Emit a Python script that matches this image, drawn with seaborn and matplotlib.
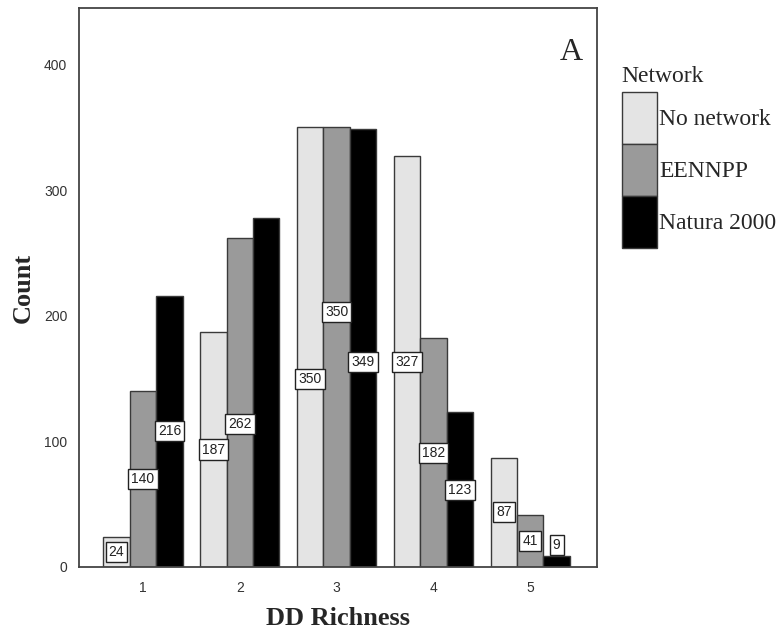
import matplotlib
matplotlib.use("Agg")
import matplotlib.pyplot as plt
import seaborn as sns
import pandas as pd

richness = ["1", "2", "3", "4", "5"]
networks = ["No network", "EENNPP", "Natura 2000"]
no_network = [24, 187, 350, 327, 87]
eennpp = [140, 262, 350, 182, 41]
natura = [216, 278, 349, 123, 9]
# labels shown on the bars (Natura 2000 at richness 2 has no visible label)
shown_labels = {
    "No network": ["24", "187", "350", "327", "87"],
    "EENNPP": ["140", "262", "350", "182", "41"],
    "Natura 2000": ["216", "", "349", "123", "9"],
}
# label heights (data units) where the chart moved a label off the bar middle
label_y_override = {
    ("EENNPP", 1): 114,
    ("No network", 2): 150,
    ("EENNPP", 2): 203,
    ("Natura 2000", 2): 163,
    ("Natura 2000", 4): 17.5,
}
colors = ["#e4e4e4", "#9a9a9a", "#000000"]

rows = []
for net, vals in zip(networks, [no_network, eennpp, natura]):
    for r, v in zip(richness, vals):
        rows.append({"DD Richness": r, "Count": v, "Network": net})
df = pd.DataFrame(rows)

sns.set_style("white")
fig = plt.figure(figsize=(7.84, 6.37), dpi=100)
ax = fig.add_axes([0.1008, 0.1099, 0.6607, 0.8775])

sns.barplot(data=df, x="DD Richness", y="Count", hue="Network", order=richness,
            hue_order=networks, palette=colors, width=0.82, gap=0,
            edgecolor="#3a3a3a", linewidth=1.0, ax=ax, legend=True)

ax.set_ylim(0, 445)
ax.set_xlim(-0.66, 4.69)
ax.set_yticks([0, 100, 200, 300, 400])

for cont, net in zip(ax.containers, networks):
    for i, (patch, lab) in enumerate(zip(cont.patches, shown_labels[net])):
        if not lab:
            continue
        h = patch.get_height()
        x = patch.get_x() + patch.get_width() / 2
        y = label_y_override.get((net, i), h / 2)
        ax.text(x, y, lab, ha="center", va="center", fontsize=10,
                family="Liberation Sans", color="#222",
                bbox=dict(boxstyle="square,pad=0.22", fc="white", ec="#222", lw=1.0))

for s in ax.spines.values():
    s.set_visible(True)
    s.set_color("#444")
    s.set_linewidth(1.3)

ax.tick_params(axis="both", which="both", direction="out", length=5, width=1,
               color="#444", labelsize=10, labelcolor="#333")
ax.tick_params(axis="x", pad=5)
for t in ax.get_xticklabels() + ax.get_yticklabels():
    t.set_family("Liberation Sans")

ax.set_xlabel("DD Richness", family="Liberation Serif", fontsize=19,
              fontweight="bold")
ax.xaxis.set_label_coords(0.5, -0.072)
ax.set_ylabel("Count", family="Liberation Serif", fontsize=19,
              fontweight="bold")
ax.yaxis.set_label_coords(-0.085, 0.5)

ax.text(0.973, 0.946, "A", transform=ax.transAxes, ha="right", va="top",
        family="Liberation Serif", fontsize=23)

handles, labels = ax.get_legend_handles_labels()
ax.get_legend().remove()
leg = fig.legend(handles, labels, title="Network", loc="upper left",
                 bbox_to_anchor=(0.781, 0.912), frameon=False,
                 prop={"family": "Liberation Serif", "size": 17},
                 title_fontproperties={"family": "Liberation Serif", "size": 17},
                 handlelength=1.48, handleheight=3.0, labelspacing=0.0,
                 handletextpad=0.1, borderaxespad=0)
leg._legend_box.align = "left"
leg._legend_box.sep = 4

fig.savefig("out.png", dpi=100)
